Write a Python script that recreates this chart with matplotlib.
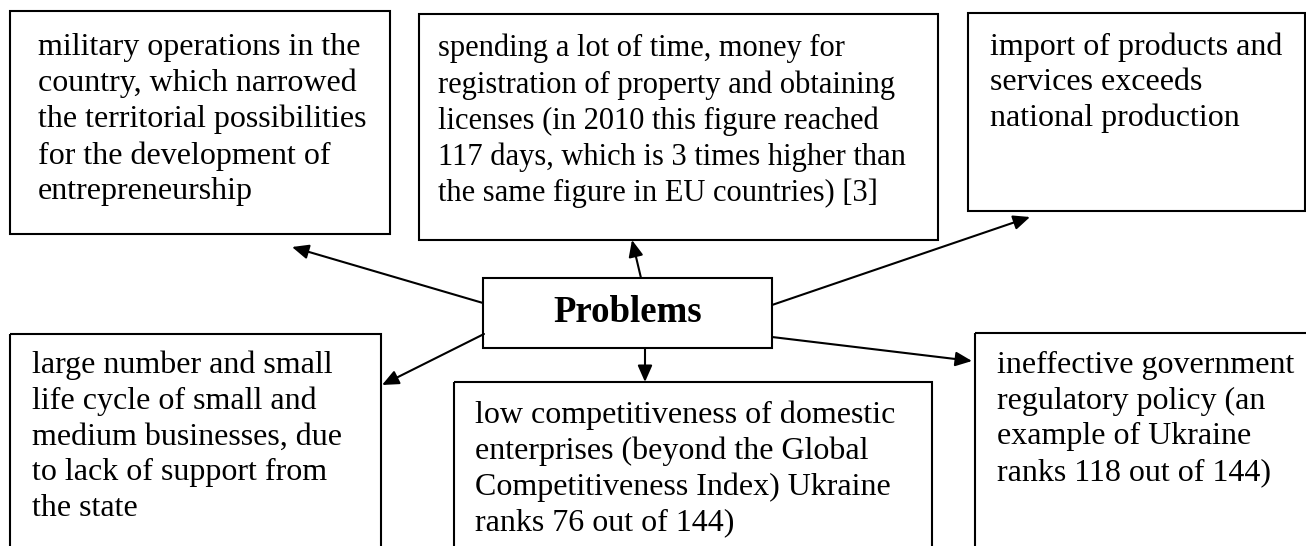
import matplotlib
matplotlib.use("Agg")
import matplotlib.pyplot as plt
from matplotlib.patches import Rectangle

plt.rcParams['font.family'] = ['Liberation Serif', 'DejaVu Serif']

# texts of the diagram
center_label = "Problems"
box_texts = [
    "military operations in the\ncountry, which narrowed\nthe territorial possibilities\nfor the development of\nentrepreneurship",
    "spending a lot of time, money for\nregistration of property and obtaining\nlicenses (in 2010 this figure reached\n117 days, which is 3 times higher than\nthe same figure in EU countries) [3]",
    "import of products and\nservices exceeds\nnational production",
    "large number and small\nlife cycle of small and\nmedium businesses, due\nto lack of support from\nthe state",
    "low competitiveness of domestic\nenterprises (beyond the Global\nCompetitiveness Index) Ukraine\nranks 76 out of 144)",
    "ineffective government\nregulatory policy (an\nexample of Ukraine\nranks 118 out of 144)",
]
box_fontsizes = [23, 22, 23, 23, 23, 23]

# layout in pixels (x0, y0, x1, y1), y going down
box_rects = [
    (10, 11, 390, 234),
    (419, 14, 938, 240),
    (968, 13, 1305, 211),
    (10, 334, 381, 560),
    (454, 382, 932, 560),
    (975, 333, 1320, 560),
]
# first-line baselines
text_pos = [(38, 55), (438, 55), (990, 54), (32, 372), (475, 422), (997, 373)]
center_rect = (483, 278, 772, 348)
arrows = [
    ((483, 303), (292, 247)),
    ((641, 278), (632, 240)),
    ((772, 305), (1030, 217)),
    ((484, 334), (382, 385)),
    ((645, 348), (645, 382)),
    ((772, 337), (972, 361)),
]

W, H = 1306, 546
fig = plt.figure(figsize=(W / 100, H / 100), dpi=100)
ax = fig.add_axes([0, 0, 1, 1])
ax.set_xlim(0, W)
ax.set_ylim(H, 0)
ax.axis('off')

lw = 1.5
ascent = 22  # px from baseline to top of first line

for (x0, y0, x1, y1) in box_rects:
    ax.add_patch(Rectangle((x0, y0), x1 - x0, y1 - y0, fill=False,
                           edgecolor='black', lw=lw, clip_on=True))

for txt, fs, (tx, ty) in zip(box_texts, box_fontsizes, text_pos):
    ax.text(tx, ty - ascent * fs / 23, txt, fontsize=fs, ha='left', va='top',
            linespacing=1.30, color='black')

x0, y0, x1, y1 = center_rect
ax.add_patch(Rectangle((x0, y0), x1 - x0, y1 - y0, fill=False,
                       edgecolor='black', lw=lw))
ax.text((x0 + x1) / 2, (y0 + y1) / 2, center_label, fontsize=26.5,
        fontweight='bold', ha='center', va='center')

for start, end in arrows:
    ax.annotate("", xy=end, xytext=start,
                arrowprops=dict(arrowstyle='-|>,head_length=0.5,head_width=0.22',
                                mutation_scale=20, lw=lw, color='black',
                                shrinkA=0, shrinkB=0))

fig.savefig("out.png", dpi=100)
